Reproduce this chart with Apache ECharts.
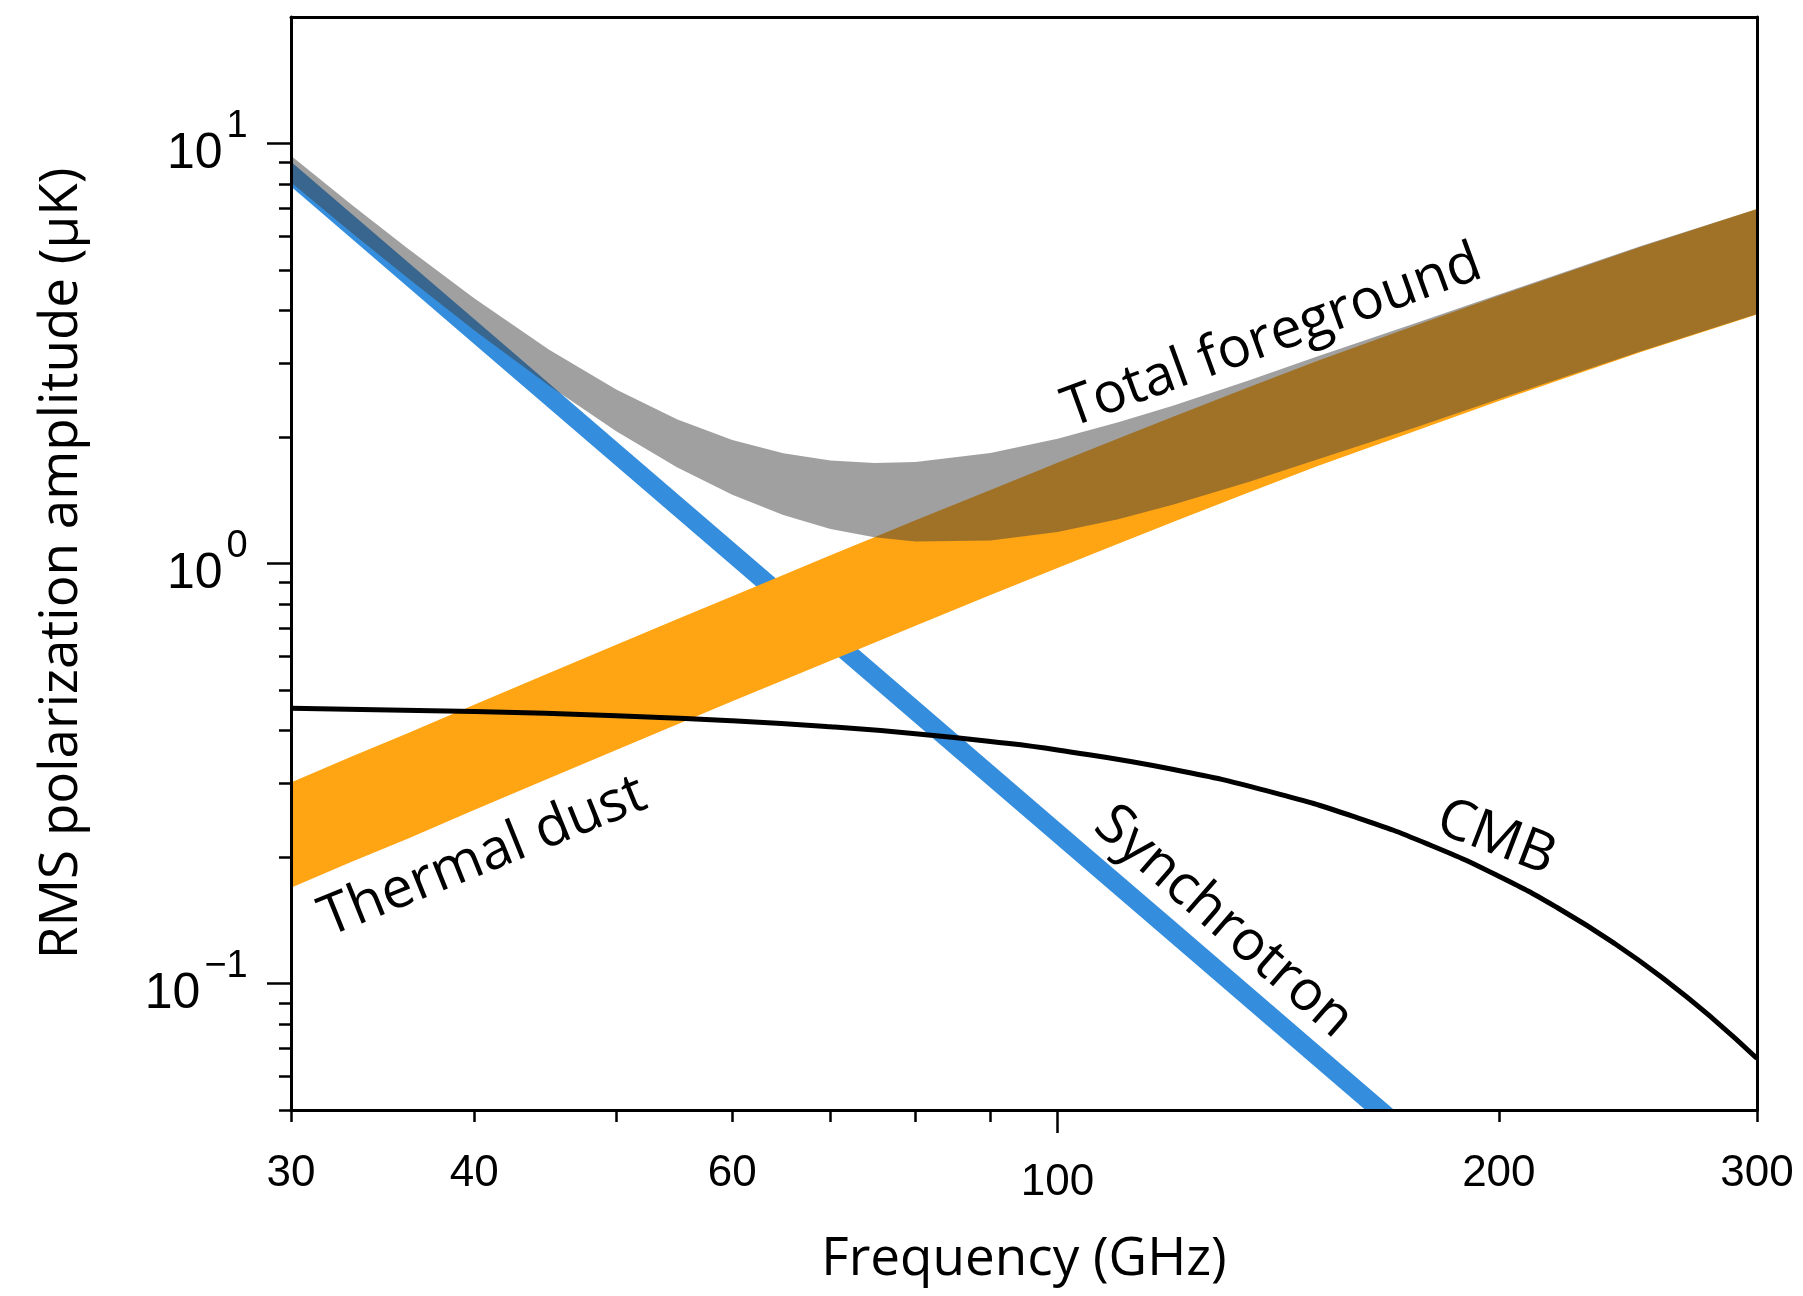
<!DOCTYPE html>
<html><head><meta charset="utf-8">
<script src="https://cdn.jsdelivr.net/npm/echarts@6/dist/echarts.min.js"></script>
<style>html,body{margin:0;padding:0;background:#fff}#c{width:1803px;height:1296px}</style>
</head><body><div id="c"></div>
<script>
// ---- data ----
const freq = [30, 33, 36, 40, 45, 50, 55, 60, 65, 70, 75, 80, 90, 100, 110, 120, 135, 150, 175, 200, 250, 300];
const dustUpper = [0.301, 0.347, 0.394, 0.461, 0.549, 0.641, 0.737, 0.836, 0.939, 1.046, 1.155, 1.267, 1.497, 1.737, 1.985, 2.238, 2.629, 3.028, 3.675, 4.340, 5.680, 6.977];
const dustLower = [0.169, 0.195, 0.221, 0.259, 0.308, 0.360, 0.414, 0.470, 0.527, 0.587, 0.648, 0.711, 0.841, 0.975, 1.115, 1.257, 1.476, 1.700, 2.063, 2.437, 3.189, 3.917];
const totalUpper = [9.351, 7.147, 5.634, 4.281, 3.229, 2.596, 2.206, 1.967, 1.829, 1.758, 1.734, 1.744, 1.832, 1.981, 2.169, 2.379, 2.728, 3.100, 3.721, 4.371, 5.696, 6.986];
const totalLower = [8.069, 6.130, 4.793, 3.592, 2.649, 2.066, 1.696, 1.458, 1.304, 1.209, 1.154, 1.128, 1.134, 1.188, 1.275, 1.381, 1.563, 1.763, 2.103, 2.464, 3.203, 3.925];
const syncFreq = [30, 40, 50, 60, 80, 100, 120, 150, 180];
const syncUpper = [9.05, 3.82, 1.955, 1.131, 0.477, 0.244, 0.1414, 0.0724, 0.0419];
const syncLower = [7.90, 3.333, 1.706, 0.9875, 0.4166, 0.2133, 0.1235, 0.0632, 0.0366];
const cmbFreq = [30, 40, 50, 60, 70, 80, 90, 100, 120, 140, 160, 180, 200, 220, 240, 260, 280, 300];
const cmbAmp = [0.4524, 0.4443, 0.4342, 0.4222, 0.4085, 0.3935, 0.3771, 0.3598, 0.3233, 0.2856, 0.2484, 0.2129, 0.1801, 0.1505, 0.1244, 0.1017, 0.0824, 0.0663];

// ticks
const xMinorTicks = [30, 40, 50, 60, 70, 80, 90, 200, 300];
const xMinorTickLabels = [30, 40, 60, 200, 300];
const xMajorTicks = [100];
const xMajorTickLabels = [100];
const yMinorTicks = [0.05, 0.06, 0.07, 0.08, 0.09, 0.2, 0.3, 0.4, 0.5, 0.6, 0.7, 0.8, 0.9, 2, 3, 4, 5, 6, 7, 8, 9];
const yMajorTicks = [0.1, 1, 10];
const yMajorTickExponents = ['\u22121', '0', '1'];

// titles
const xTitle = 'Frequency (GHz)';
const yTitle = 'RMS polarization amplitude (\u03bcK)';

// curve labels
const curveLabels = ['Total foreground', 'Thermal dust', 'Synchrotron', 'CMB'];
const curveLabelFreq = [140.1, 40.57, 129.8, 199.1];
const curveLabelAmp = [3.462, 0.2001, 0.140, 0.222];
const curveLabelAngle = [20, 22, -41, -21];

// ---- chart ----
const chart = echarts.init(document.getElementById('c'), null, {renderer: 'canvas', width: 1803, height: 1296});
const TXT = '#000';
const GRID = {left: 291, right: 46, top: 17, bottom: 186};

function band(name, xs, up, lo, color, z) {
  return {
    type: 'custom', name: name, coordinateSystem: 'cartesian2d',
    xAxisIndex: 0, yAxisIndex: 0, clip: true, silent: true, z: z,
    data: [[xs[0], up[0]]],
    renderItem: function (params, api) {
      const pts = [];
      for (let i = 0; i < xs.length; i++) pts.push(api.coord([xs[i], up[i]]));
      for (let i = xs.length - 1; i >= 0; i--) pts.push(api.coord([xs[i], lo[i]]));
      const cs = params.coordSys;
      return {
        type: 'polygon', shape: {points: pts}, style: {fill: color, stroke: null},
        clipPath: {type: 'rect', shape: {x: cs.x, y: cs.y, width: cs.width, height: cs.height}}
      };
    }
  };
}

const axisLineStyle = {color: '#000', width: 3};
const tickStyle = {color: '#000', width: 2.5};

function findIdx(arr, v) {
  for (let i = 0; i < arr.length; i++) if (Math.abs(arr[i] - v) / arr[i] < 1e-6) return i;
  return -1;
}

const option = {
  animation: false,
  backgroundColor: '#fff',
  grid: {left: GRID.left, right: GRID.right, top: GRID.top, bottom: GRID.bottom, show: false, containLabel: false},
  xAxis: [
    {
      type: 'log', logBase: 10, min: 30, max: 300, position: 'bottom', z: 10,
      axisLine: {show: true, lineStyle: axisLineStyle},
      axisTick: {show: true, customValues: xMinorTicks, length: 12, inside: false, lineStyle: tickStyle},
      axisLabel: {show: true, customValues: xMinorTickLabels, margin: 42, fontFamily: 'Liberation Sans', fontSize: 44, lineHeight: 44, color: TXT,
        formatter: function (v) { return String(Math.round(v)); }},
      splitLine: {show: false}, minorTick: {show: false}
    },
    {
      type: 'log', logBase: 10, min: 30, max: 300, position: 'bottom', offset: 0, z: 10,
      axisLine: {show: false},
      axisTick: {show: true, customValues: xMajorTicks, length: 23, inside: false, lineStyle: tickStyle},
      axisLabel: {show: true, customValues: xMajorTickLabels, margin: 51, fontFamily: 'Liberation Sans', fontSize: 44, lineHeight: 44, color: TXT,
        formatter: function (v) { return String(Math.round(v)); }},
      splitLine: {show: false}
    },
    {
      type: 'log', logBase: 10, min: 30, max: 300, position: 'top', z: 10,
      axisLine: {show: true, lineStyle: axisLineStyle},
      axisTick: {show: false}, axisLabel: {show: false}, splitLine: {show: false}
    }
  ],
  yAxis: [
    {
      type: 'log', logBase: 10, min: 0.05, max: 20, position: 'left', z: 10,
      axisLine: {show: true, lineStyle: axisLineStyle},
      axisTick: {show: true, customValues: yMinorTicks, length: 12, inside: false, lineStyle: tickStyle},
      axisLabel: {show: false}, splitLine: {show: false}
    },
    {
      type: 'log', logBase: 10, min: 0.05, max: 20, position: 'left', offset: 0, z: 10,
      axisLine: {show: false},
      axisTick: {show: true, customValues: yMajorTicks, length: 24, inside: false, lineStyle: tickStyle},
      axisLabel: {
        show: true, customValues: yMajorTicks, margin: 43, color: TXT,
        formatter: function (v) {
          const i = findIdx(yMajorTicks, v);
          return '{b|10}{s|' + (i >= 0 ? yMajorTickExponents[i] : '') + '}{p| }';
        },
        rich: {
          b: {fontFamily: 'Liberation Sans', fontSize: 50, lineHeight: 64, verticalAlign: 'bottom', color: TXT},
          s: {fontFamily: 'Liberation Sans', fontSize: 38, lineHeight: 42, verticalAlign: 'top', padding: [0, 0, 0, 4], color: TXT},
          p: {fontSize: 1, lineHeight: 72}
        }
      },
      splitLine: {show: false},
      name: yTitle, nameLocation: 'middle', nameGap: 199,
      nameTextStyle: {fontFamily: 'Open Sans', fontSize: 53, lineHeight: 60, color: TXT}
    },
    {
      type: 'log', logBase: 10, min: 0.05, max: 20, position: 'right', z: 10,
      axisLine: {show: true, lineStyle: axisLineStyle},
      axisTick: {show: false}, axisLabel: {show: false}, splitLine: {show: false}
    }
  ],
  series: [
    band('Synchrotron', syncFreq, syncUpper, syncLower, '#348edd', 2),
    band('Thermal dust', freq, dustUpper, dustLower, '#ffa514', 3),
    band('Total foreground', freq, totalUpper, totalLower, 'rgba(61,61,61,0.49)', 4),
    {
      type: 'line', name: 'CMB', xAxisIndex: 0, yAxisIndex: 0, z: 5, clip: true,
      data: cmbFreq.map(function (f, i) { return [f, cmbAmp[i]]; }),
      symbol: 'none', smooth: true, lineStyle: {color: '#000', width: 5}, silent: true
    }
  ]
};
chart.setOption(option);

const graphics = curveLabels.map(function (t, i) {
  const p = chart.convertToPixel({xAxisIndex: 0, yAxisIndex: 0}, [curveLabelFreq[i], curveLabelAmp[i]]);
  return {
    type: 'text', x: p[0], y: p[1], rotation: curveLabelAngle[i] * Math.PI / 180, z: 100,
    style: {text: t, fontFamily: 'Open Sans', fontSize: 56, fill: '#000', align: 'center', verticalAlign: 'middle'}
  };
});
// x-axis title, centred under the plotting area
const pL = chart.convertToPixel({xAxisIndex: 0}, 30);
const pR = chart.convertToPixel({xAxisIndex: 0}, 300);
graphics.push({
  type: 'text', x: (pL + pR) / 2, y: 1260, z: 100,
  style: {text: xTitle, fontFamily: 'Open Sans', fontSize: 53, fill: '#000', align: 'center', verticalAlign: 'middle'}
});
chart.setOption({graphic: graphics});
</script>
</body></html>
